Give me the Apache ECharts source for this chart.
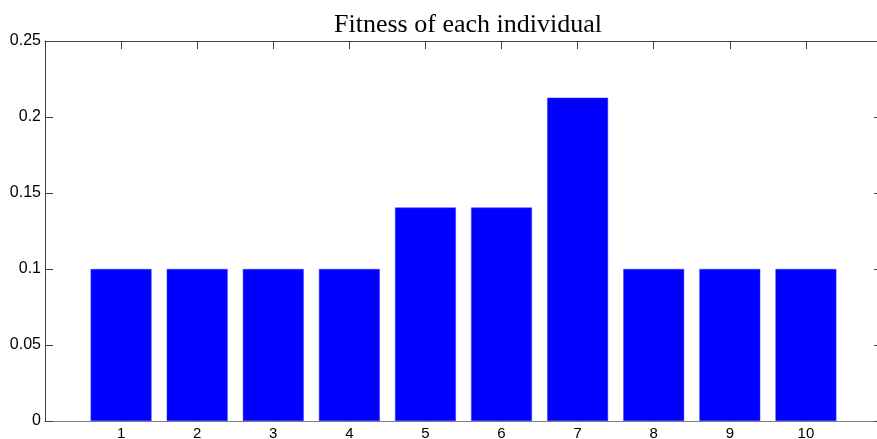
<!DOCTYPE html>
<html>
<head>
<meta charset="utf-8">
<script src="https://cdn.jsdelivr.net/npm/echarts@6/dist/echarts.min.js"></script>
<style>html,body{margin:0;padding:0;background:#fff}#c{width:877px;height:439px}</style>
</head>
<body>
<div id="c"></div>
<script>
const categories = [1, 2, 3, 4, 5, 6, 7, 8, 9, 10];
const fitness = [0.1, 0.1, 0.1, 0.1, 0.1404, 0.1404, 0.2127, 0.1, 0.1, 0.1];
const xTickLabels = ['1', '2', '3', '4', '5', '6', '7', '8', '9', '10'];
const yTickLabels = ['0', '0.05', '0.1', '0.15', '0.2', '0.25'];
const titleText = 'Fitness of each individual';

const chart = echarts.init(document.getElementById('c'));
const axisCol = '#404040';
const lbl = {fontFamily: 'Liberation Sans, Arial, sans-serif', fontSize: 16, color: '#000'};
const tick = {show: true, inside: true, length: 8, lineStyle: {color: axisCol, width: 1}};
chart.setOption({
  animation: false,
  backgroundColor: '#fff',
  title: {
    text: titleText, left: 463, textAlign: 'center', top: 7,
    textStyle: {fontFamily: 'Liberation Serif, Times New Roman, serif', fontSize: 26, fontWeight: 'normal', color: '#000'}
  },
  grid: {left: 45, right: -5, top: 41, bottom: 18, containLabel: false, outerBoundsMode: 'none'},
  xAxis: [{
    type: 'value', min: 0, max: 11, interval: 1, position: 'bottom',
    axisLine: {show: true, onZero: false, lineStyle: {color: '#808080', width: 1}},
    axisTick: tick,
    axisLabel: Object.assign({}, lbl, {fontSize: 15, margin: 5, formatter: v => (v >= 1 && v <= 10) ? xTickLabels[v - 1] : ''}),
    splitLine: {show: false}
  }, {
    type: 'value', min: 0, max: 11, interval: 1, position: 'top',
    axisLine: {show: true, onZero: false, lineStyle: {color: axisCol, width: 1}},
    axisTick: tick,
    axisLabel: {show: false}, splitLine: {show: false}
  }],
  yAxis: [{
    type: 'value', min: 0, max: 0.25, interval: 0.05, position: 'left',
    axisLine: {show: true, onZero: false, lineStyle: {color: axisCol, width: 1}},
    axisTick: tick,
    axisLabel: Object.assign({}, lbl, {margin: 4, formatter: (v) => yTickLabels[Math.round(v / 0.05)]}),
    splitLine: {show: false}
  }, {
    type: 'value', min: 0, max: 0.25, interval: 0.05, position: 'right',
    axisLine: {show: true, onZero: false, lineStyle: {color: axisCol, width: 1}},
    axisTick: tick,
    axisLabel: {show: false}, splitLine: {show: false}
  }],
  series: [{
    type: 'bar', xAxisIndex: 0, yAxisIndex: 0,
    data: categories.map((c, i) => [c, fitness[i]]),
    barWidth: '80%',
    itemStyle: {color: '#0000ff', borderColor: '#3333ff', borderWidth: 0.5},
    z: 3
  }]
});
</script>
</body>
</html>
